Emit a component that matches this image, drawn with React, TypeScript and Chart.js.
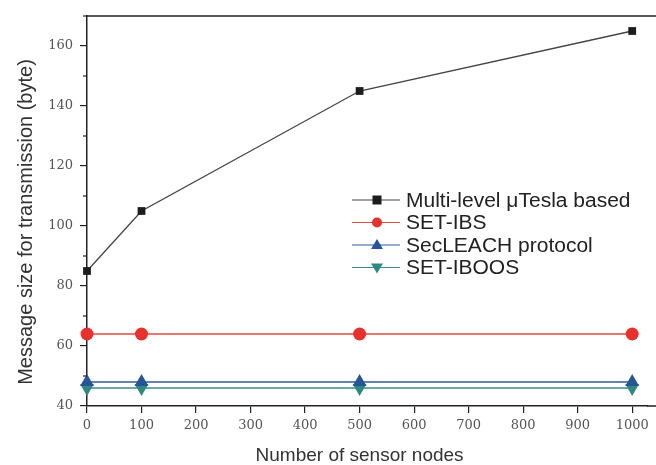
import React, { useEffect, useRef } from "react";
import { Chart, registerables } from "chart.js";

Chart.register(...registerables);

const nodes = [0, 100, 500, 1000];
const multiLevel = [85, 105, 145, 165];
const setIbs = [64, 64, 64, 64];
const secLeach = [48, 48, 48, 48];
const setIboos = [46, 46, 46, 46];
const seriesNames = ["Multi-level μTesla based", "SET-IBS", "SecLEACH protocol", "SET-IBOOS"];
const xTickValues = [0, 100, 200, 300, 400, 500, 600, 700, 800, 900, 1000];
const yTickValues = [40, 60, 80, 100, 120, 140, 160];
const yMinorTicks = [50, 70, 90, 110, 130, 150, 170];
const xTitle = "Number of sensor nodes";
const yTitle = "Message size for transmission (byte)";

const colors = ["#1c1c1c", "#e8302c", "#27559a", "#2e8a80"];
const lineColors = ["#444444", "#e04a44", "#2f5d93", "#3a8c88"];
const styles = ["rect", "circle", "triangle", "triangle"];
const rots = [0, 0, 0, 180];
const radii = [5.5, 6.5, 8, 8];

const toPts = (arr: number[]) => arr.map((y, i) => ({ x: nodes[i], y }));

function marker(ctx: CanvasRenderingContext2D, kind: number, x: number, y: number) {
  ctx.beginPath();
  if (kind === 0) {
    ctx.rect(x - 4.5, y - 4.5, 9, 9);
  } else if (kind === 1) {
    ctx.arc(x, y, 5, 0, Math.PI * 2);
  } else if (kind === 2) {
    ctx.moveTo(x, y - 6);
    ctx.lineTo(x + 6, y + 4);
    ctx.lineTo(x - 6, y + 4);
    ctx.closePath();
  } else {
    ctx.moveTo(x, y + 6);
    ctx.lineTo(x + 6, y - 4);
    ctx.lineTo(x - 6, y - 4);
    ctx.closePath();
  }
  ctx.fill();
}

export default function App() {
  const ref = useRef<HTMLCanvasElement>(null);
  useEffect(() => {
    document.body.style.margin = "0";
    const series = [multiLevel, setIbs, secLeach, setIboos];
    const decor = {
      id: "decor",
      afterDraw(chart: any) {
        const ctx = chart.ctx;
        const a = chart.chartArea;
        const ys = chart.scales.y;
        const xs = chart.scales.x;
        ctx.save();
        ctx.strokeStyle = "#222";
        ctx.lineWidth = 1.5;
        ctx.beginPath();
        ctx.moveTo(a.left, a.top);
        ctx.lineTo(656, a.top);
        ctx.moveTo(a.right - 1, a.bottom);
        ctx.lineTo(656, a.bottom);
        ctx.stroke();
        ctx.lineWidth = 1.2;
        for (const v of yMinorTicks) {
          const py = ys.getPixelForValue(v);
          ctx.beginPath();
          ctx.moveTo(a.left - 4, py);
          ctx.lineTo(a.left, py);
          ctx.stroke();
        }
        ctx.fillStyle = "#333";
        ctx.textAlign = "center";
        ctx.textBaseline = "middle";
        ctx.font = "19px 'Liberation Sans', Arial, sans-serif";
        const cx = (xs.getPixelForValue(0) + xs.getPixelForValue(1000)) / 2;
        ctx.fillText(xTitle, cx, 456);
        ctx.font = "20px 'Liberation Sans', Arial, sans-serif";
        ctx.save();
        ctx.translate(26, 222);
        ctx.rotate(-Math.PI / 2);
        ctx.fillText(yTitle, 0, 0);
        ctx.restore();
        const rowsY = [200, 222.5, 245, 267.5];
        ctx.font = "20px 'Liberation Sans', Arial, sans-serif";
        ctx.textAlign = "left";
        for (let i = 0; i < 4; i++) {
          const y = rowsY[i];
          ctx.strokeStyle = lineColors[i];
          ctx.lineWidth = 1.2;
          ctx.beginPath();
          ctx.moveTo(352, y);
          ctx.lineTo(400, y);
          ctx.stroke();
          ctx.fillStyle = colors[i];
          marker(ctx, i, 377, y);
          ctx.fillStyle = "#222";
          ctx.save();
          ctx.translate(406, y + 1);
          ctx.scale(1.05, 1);
          ctx.fillText(seriesNames[i], 0, 0);
          ctx.restore();
        }
        ctx.restore();
      },
    };
    const chart = new Chart(ref.current!, {
      type: "line",
      data: {
        datasets: series.map((s, i) => ({
          label: seriesNames[i],
          data: toPts(s),
          borderColor: lineColors[i],
          borderWidth: 1.3,
          backgroundColor: colors[i],
          pointBackgroundColor: colors[i],
          pointBorderColor: colors[i],
          pointBorderWidth: 0,
          pointStyle: styles[i] as any,
          rotation: rots[i],
          pointRadius: radii[i],
          clip: false as any,
          tension: 0,
        })),
      },
      options: {
        animation: false,
        responsive: false,
        layout: { padding: { top: 16, right: 0, left: 0, bottom: 0 } },
        plugins: { legend: { display: false }, tooltip: { enabled: false } },
        scales: {
          x: {
            type: "linear",
            min: 0,
            max: 1029,
            afterBuildTicks: (s: any) => {
              s.ticks = xTickValues.map((v) => ({ value: v }));
            },
            afterFit: (s: any) => {
              s.height = 59;
            },
            ticks: {
              padding: 5,
              color: "#555",
              font: { family: "'DejaVu Serif', serif", size: 13 },
              maxRotation: 0,
              autoSkip: false,
              callback: (v: any) => String(v),
            },
            grid: { display: true, drawOnChartArea: false, drawTicks: true, tickLength: 7, color: "#222", lineWidth: 1.2 },
            border: { display: true, color: "#222", width: 1.5 },
          },
          y: {
            type: "linear",
            min: 40,
            max: 170,
            afterBuildTicks: (s: any) => {
              s.ticks = yTickValues.map((v) => ({ value: v }));
            },
            afterFit: (s: any) => {
              s.width = 87;
            },
            ticks: {
              padding: 7,
              color: "#555",
              font: { family: "'DejaVu Serif', serif", size: 13 },
              callback: (v: any) => String(v),
            },
            grid: { display: true, drawOnChartArea: false, drawTicks: true, tickLength: 7, color: "#222", lineWidth: 1.2 },
            border: { display: true, color: "#222", width: 1.5 },
          },
        },
      },
      plugins: [decor],
    });
    return () => chart.destroy();
  }, []);
  return <canvas ref={ref} width={656} height={465} style={{ display: "block" }} />;
}
